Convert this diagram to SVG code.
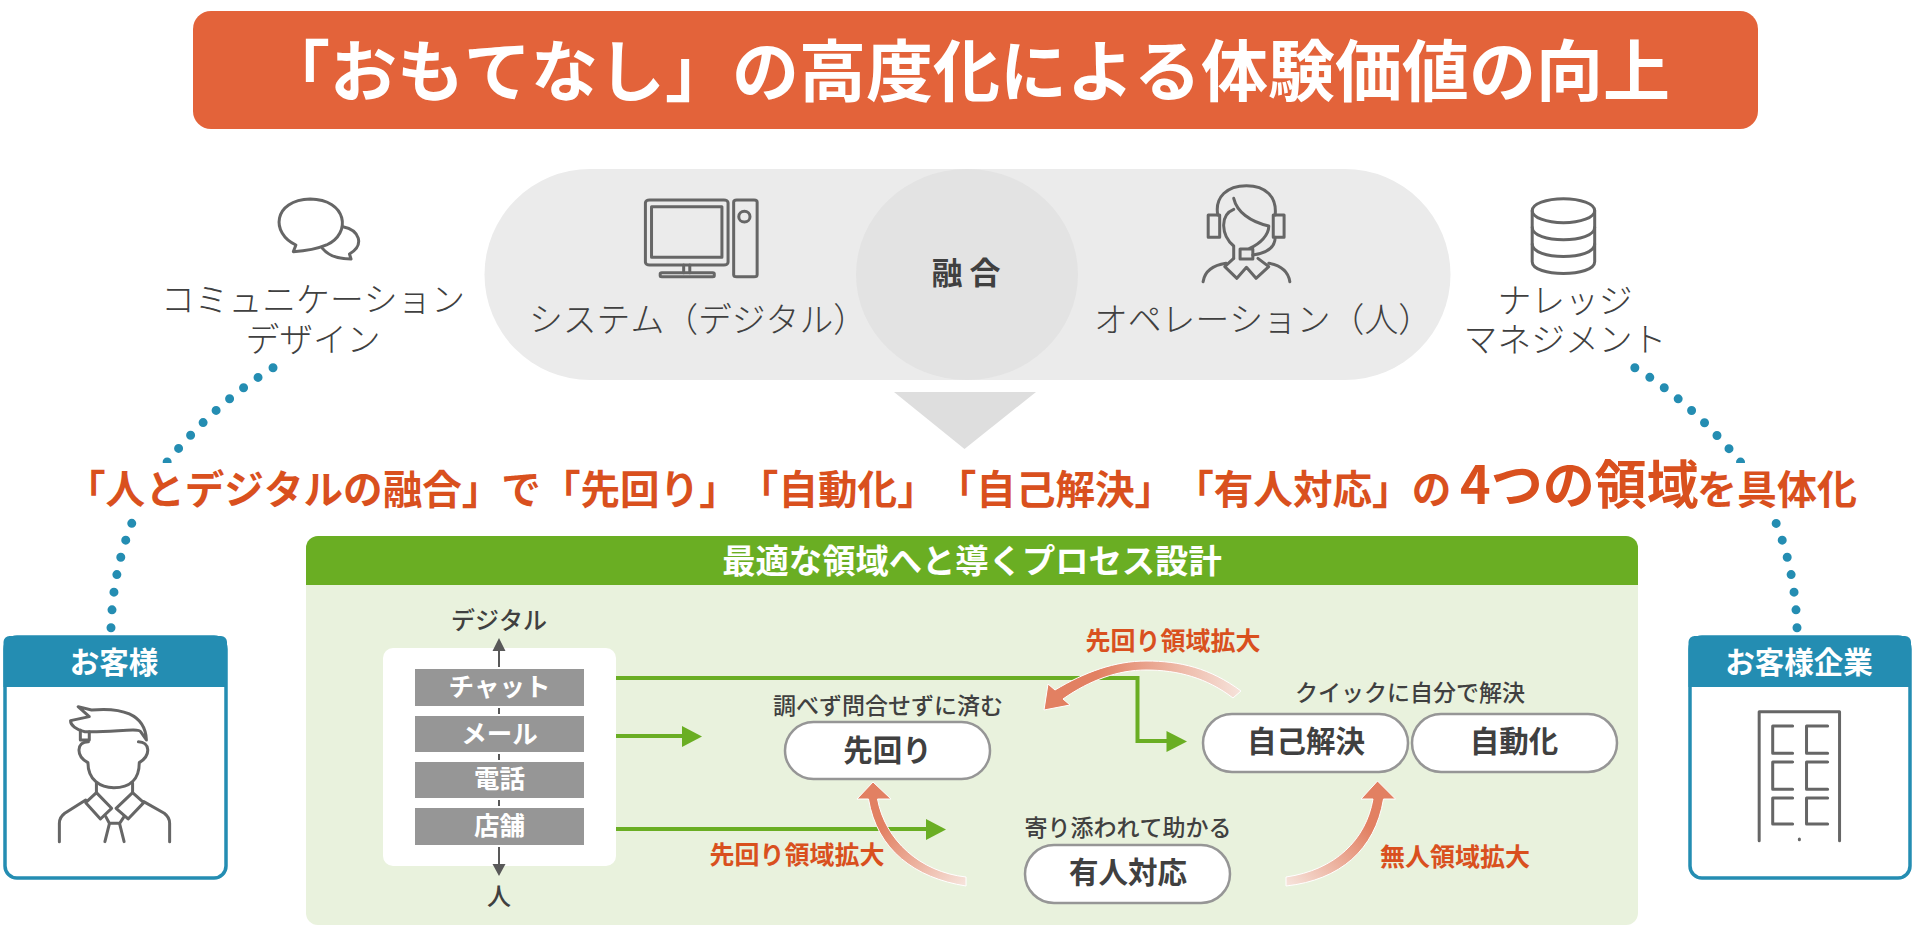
<svg xmlns="http://www.w3.org/2000/svg" width="1924" height="936" viewBox="0 0 1924 936">
<style>
text{font-family:"Noto Sans CJK JP","Noto Sans",sans-serif;fill:#404040;text-anchor:middle;text-spacing-trim:space-all;font-kerning:none}
.lt{font-size:33.800px;font-weight:300}
.b{font-weight:700}
.w{fill:#fff;font-weight:700}
.or{fill:#D9501E;font-weight:700;font-size:25px}
.cap{font-size:23px;font-weight:500}
.pt{font-size:29.500px;font-weight:700}
.ch{font-size:25.500px}
.ico{fill:none;stroke:#666;stroke-width:3;stroke-linejoin:round;stroke-linecap:round}
.ico *{vector-effect:non-scaling-stroke}
.pill{fill:#fff;stroke:#969696;stroke-width:2.500}
.gl{fill:none;stroke:#6AAE23;stroke-width:4}
.gh{fill:#6AAE23}
.dots{fill:none;stroke:#248DB2;stroke-width:9;stroke-linecap:round;stroke-dasharray:0 17.800}
.ax{stroke:#595959;stroke-width:2;fill:none}
.axh{fill:#595959}
.gr{fill:#969696}
.cb{fill:#fff;stroke:#248DB2;stroke-width:3.500}
.ch2{fill:#248DB2}
.ca{stroke:#fff;stroke-width:1}
</style>
<defs>
<linearGradient id="gT" gradientUnits="userSpaceOnUse" x1="1240" y1="695" x2="1050" y2="700"><stop offset="0" stop-color="#F6E2DA"/><stop offset=".75" stop-color="#E28062"/></linearGradient>
<linearGradient id="gL" gradientUnits="userSpaceOnUse" x1="966" y1="882" x2="873" y2="790"><stop offset="0" stop-color="#F6E2DA"/><stop offset=".75" stop-color="#E28062"/></linearGradient>
<linearGradient id="gR" gradientUnits="userSpaceOnUse" x1="1286" y1="882" x2="1378" y2="790"><stop offset="0" stop-color="#F6E2DA"/><stop offset=".75" stop-color="#E28062"/></linearGradient>
</defs>

<g id="title"><rect x="193" y="11" width="1565" height="118" rx="18" fill="#E3633A"/>
<text x="263" y="96" style="text-anchor:start;font-size:67px;font-weight:700;fill:#fff">「おもてなし」の高度化による体験価値の向上</text></g>

<g id="connectors">
<path class="dots" d="M111 627.700C113 560 135 500 169 459.700C195 428 232 392 276 366"/>
<path class="dots" d="M1797 627.700C1795 560 1773 500 1738.500 459.700C1712 428 1676 392 1632 366"/>
</g>
<rect x="60" y="463" width="1820" height="55" fill="#fff"/>
<rect x="240" y="345" width="60" height="18" fill="#fff"/>
<rect x="1610" y="345" width="60" height="18" fill="#fff"/>

<g id="fusion">
<rect x="484.500" y="169" width="966" height="211" rx="105.500" fill="#EBEBEB"/>
<ellipse cx="967" cy="274.500" rx="111" ry="105.500" fill="#E3E3E3"/>
<text x="966" y="284" class="b" style="font-size:31px">融 合</text>
<polygon points="894,392 1036,392 964.500,449" fill="#DEDEDE"/>
</g>

<g id="comm-design">
<g class="ico" transform="translate(0,150) scale(.5102,.3333)">
<path d="M575 305L580 285C530 250 535 150 608 147C680 148 690 250 640 285C620 298 600 303 575 305Z"/>
<path d="M672 230C705 240 715 285 685 312L688 327C665 327 645 320 632 295"/>
</g>
<text class="lt" x="313" y="312">コミュニケーション</text>
<text class="lt" x="313" y="352">デザイン</text>
</g>

<g id="system">
<g class="ico" transform="translate(0,150) scale(.5102,.3333)">
<rect x="1265" y="150" width="162" height="195" rx="8"/>
<rect x="1277" y="170" width="138" height="152"/>
<path d="M1340 345V368M1352 345V368"/>
<rect x="1294" y="368" width="106" height="12" rx="3"/>
<rect x="1438" y="150" width="46" height="230" rx="6"/>
<ellipse cx="1459" cy="200" rx="11" ry="16"/>
</g>
<text class="lt" x="698" y="332">システム（デジタル）</text>
</g>

<g id="operation">
<g class="ico" transform="translate(800,150) scale(.6378,.3333)">
<path d="M655 195C650 140 670 107 700 107C730 107 748 140 745 195"/>
<path d="M680 145C685 185 705 215 735 228C735 255 722 280 705 295"/>
<path d="M680 178C658 195 660 255 680 288V325"/>
<rect x="640" y="195" width="18" height="67"/>
<rect x="742" y="195" width="17" height="67"/>
<path d="M745 262C745 295 730 310 710 315"/>
<rect x="690" y="297" width="20" height="30"/>
<path d="M632 395C635 360 650 345 668 340M768 395C765 360 750 345 735 340"/>
<path d="M680 325L666 350L685 385L700 352L715 385L735 350L718 325"/>
</g>
<text class="lt" x="1263" y="332">オペレーション（人）</text>
</g>

<g id="knowledge">
<g class="ico" transform="translate(800,150) scale(.6378,.3333)">
<ellipse cx="1197" cy="182" rx="49" ry="36"/>
<path d="M1148 182V335C1148 382 1246 382 1246 335V182"/>
<path d="M1148 232C1148 282 1246 282 1246 232M1148 282C1148 332 1246 332 1246 282"/>
</g>
<text class="lt" x="1565" y="313">ナレッジ</text>
<text class="lt" x="1565" y="352">マネジメント</text>
</g>

<text id="headline" y="504" class="b" style="text-anchor:start;fill:#D9501E;font-size:39.600px"><tspan x="66">「人とデジタルの融合」で「先回り」「自動化」「自己解決」「有人対応」の</tspan><tspan x="1460" style="font-size:52px">4つの領域</tspan><tspan x="1697" style="font-size:40px">を具体化</tspan></text>

<g id="panel">
<rect x="306" y="536" width="1332" height="389" rx="12" fill="#E9F2DD"/>
<path d="M306 585V548a12 12 0 0 1 12-12H1626a12 12 0 0 1 12 12V585Z" fill="#6AAE23"/>
<text x="972" y="573" class="w" style="font-size:33.300px">最適な領域へと導くプロセス設計</text>
</g>

<g id="channels">
<rect x="383" y="648" width="233" height="218" rx="10" fill="#fff"/>
<path class="ax" d="M499 667V650M499 708V714M499 754V760M499 800V806M499 847V866"/>
<path class="axh" d="M499 638L505.500 651H492.500ZM499 876L505.500 864H492.500Z"/>
<g id="ch-chat"><rect class="gr" x="415" y="669" width="169" height="37"/><text class="w ch" x="499.500" y="696">チャット</text></g>
<g id="ch-mail"><rect class="gr" x="415" y="716" width="169" height="36"/><text class="w ch" x="499.500" y="743">メール</text></g>
<g id="ch-tel"><rect class="gr" x="415" y="762" width="169" height="36"/><text class="w ch" x="499.500" y="788">電話</text></g>
<g id="ch-shop"><rect class="gr" x="415" y="808" width="169" height="37"/><text class="w ch" x="499.500" y="835">店舗</text></g>
<text x="499" y="629" style="font-size:24px;font-weight:500">デジタル</text>
<text x="499" y="905" style="font-size:24px;font-weight:500">人</text>
</g>

<g id="flows">
<path class="gl" d="M616 678H1137.500V741H1168"/><path class="gh" d="M1166.500 731L1187 741.500L1166.500 752Z"/>
<path class="gl" d="M616 736H684"/><path class="gh" d="M682 726L702 736.500L682 747Z"/>
<path class="gl" d="M616 829H928"/><path class="gh" d="M926 819L946 829.500L926 840Z"/>
<path class="ca" fill="url(#gT)" d="M1241 691C1210 668 1180 661 1146 661C1115 661 1085 672 1055 690L1048 684L1044 710L1070 705L1063 699C1090 680 1118 670 1146 670C1178 670 1207 678 1233 698Z"/>
<path class="ca" fill="url(#gL)" d="M966 886C915 878 877 850 868.500 799H857L873 782L891 799H877.500C885 840 920 872 966 877Z"/>
<path class="ca" fill="url(#gR)" d="M1286 886C1340 880 1375 850 1383.500 799H1395.500L1377.500 781L1361 799H1373C1366 840 1335 870 1286 877Z"/>
<text class="or" x="1173" y="650">先回り領域拡大</text>
<text class="or" x="797" y="864">先回り領域拡大</text>
<text class="or" x="1455" y="866">無人領域拡大</text>
</g>

<g id="n-senkai"><rect class="pill" x="785" y="722" width="205" height="57" rx="28.500"/><text class="pt" x="887.500" y="761">先回り</text><text class="cap" x="888" y="714">調べず問合せずに済む</text></g>
<g id="n-jiko"><rect class="pill" x="1203" y="714" width="205" height="58" rx="29"/><text class="pt" x="1306" y="752">自己解決</text><text class="cap" x="1410" y="701">クイックに自分で解決</text></g>
<g id="n-auto"><rect class="pill" x="1412" y="714" width="205" height="58" rx="29"/><text class="pt" x="1514" y="752">自動化</text></g>
<g id="n-yujin"><rect class="pill" x="1025" y="845" width="205" height="58" rx="29"/><text class="pt" x="1128" y="883">有人対応</text><text class="cap" x="1128" y="836">寄り添われて助かる</text></g>

<g id="customer">
<rect class="cb" x="5" y="637" width="221" height="241" rx="12"/>
<path class="ch2" d="M3.500 687V642a6 6 0 0 1 6-6H221a6 6 0 0 1 6 6V687Z"/>
<text class="w" x="114" y="673" style="font-size:29.500px">お客様</text>
<g class="ico" transform="translate(0,620) scale(.4464,.3333)">
<path d="M175 260L205 270C270 262 325 280 328 360L315 335C310 322 250 338 190 335C170 330 158 315 158 302L200 290Z"/>
<path d="M180 330V360H200V335"/>
<path d="M198 365C170 365 170 410 197 428C197 480 225 503 255 503C290 503 312 480 312 428C340 405 335 365 310 365"/>
<path d="M216 488V518M297 488V518"/>
<path d="M216 518L250 565L225 597L192 548ZM297 518L322 548L287 597L260 565Z"/>
<path d="M192 540L145 580Q133 592 133 610V665M322 545L368 580Q380 592 380 610V665"/>
<path d="M237 590L245 610H268L278 590M245 612L235 665M268 612L278 665"/>
</g>
</g>

<g id="company">
<rect class="cb" x="1690" y="637" width="220" height="241" rx="12"/>
<path class="ch2" d="M1688.500 687V642a6 6 0 0 1 6-6H1905a6 6 0 0 1 6 6V687Z"/>
<text class="w" x="1799" y="673" style="font-size:29.500px">お客様企業</text>
<g class="ico" transform="translate(1300,620) scale(.3979,.3333)">
<path d="M1154 662V275H1356V662"/>
<path d="M1238 318H1188V400H1238M1326 318H1273V400H1326M1238 426H1188V508H1238M1326 426H1273V508H1326M1238 534H1188V612H1238M1326 534H1273V612H1326"/>
<path d="M1255 657V659"/>
</g>
</g>
</svg>
